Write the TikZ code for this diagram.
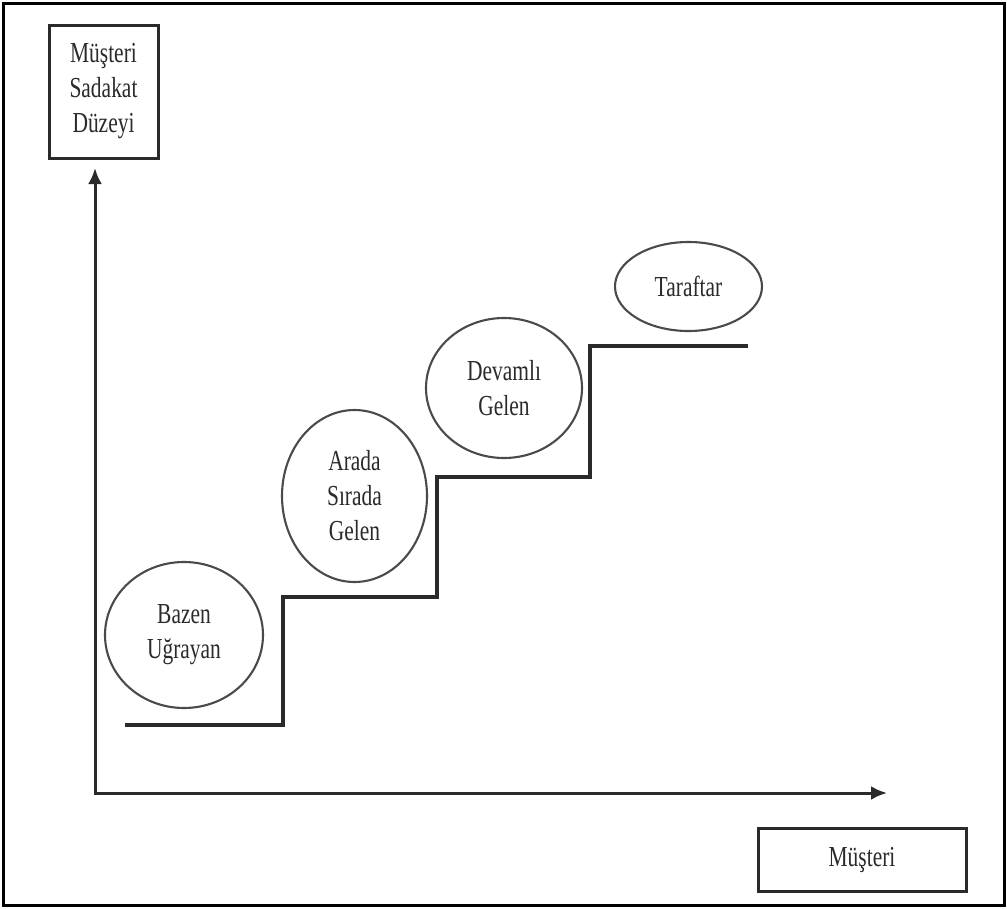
\documentclass[tikz,border=0pt]{standalone}
\usepackage{fontspec}
\setmainfont[FakeStretch=0.74]{Liberation Serif}
\usepackage{tikz}
\usetikzlibrary{shapes,arrows.meta,positioning,shapes.geometric}

\definecolor{inkgray}{HTML}{2A2A2A}
\definecolor{rimgray}{HTML}{4A4A4A}

\begin{document}
\begin{tikzpicture}[x=1pt, y=-1pt,
  stage/.style={draw=rimgray, line width=2.1pt, ellipse, inner sep=0pt, align=center,
    font=\fontsize{29}{35}\selectfont, text=inkgray},
  labelbox/.style={draw=inkgray, line width=3pt, rectangle, inner sep=0pt, align=center,
    font=\fontsize{29}{35}\selectfont, text=inkgray},
  axis/.style={draw=inkgray, line width=3pt, -{Latex[length=16pt,width=14pt]}},
  stair/.style={draw=inkgray, line width=3.3pt}]
\useasboundingbox (0,0) rectangle (1007,908);
\draw[black, line width=3pt] (3,3) rectangle (1004,905);

% axes
\coordinate (origin) at (95,793);
\coordinate (ytop) at (95,168);
\coordinate (xend) at (887,793);
\draw[axis] (origin) -- (ytop);
\draw[axis, shorten <=-1.5pt] (origin) -- (xend);

\node[labelbox, minimum width=109pt, minimum height=133pt] (level) at (103.5,91.5) {Müşteri\\Sadakat\\Düzeyi};
\node[labelbox, minimum width=208pt, minimum height=63pt] (customer) at (862,859.5) {Müşteri};

% stairs
\draw[stair] (125,725) -- (283,725) -- (283,597) -- (437,597) -- (437,477)
  -- (590,477) -- (590,346) -- (748,346);

% stages
\node[stage, minimum width=158pt, minimum height=146pt] (occasional) at (184,635) {Bazen\\Uğrayan};
\node[stage, minimum width=145pt, minimum height=172pt] (sometimes) at (354.5,496) {Arada\\Sırada\\Gelen};
\node[stage, minimum width=156pt, minimum height=140pt] (regular) at (504,388) {Devamlı\\Gelen};
\node[stage, minimum width=147pt, minimum height=89pt] (fan) at (688.5,286.5) {Taraftar};
\end{tikzpicture}
\end{document}
